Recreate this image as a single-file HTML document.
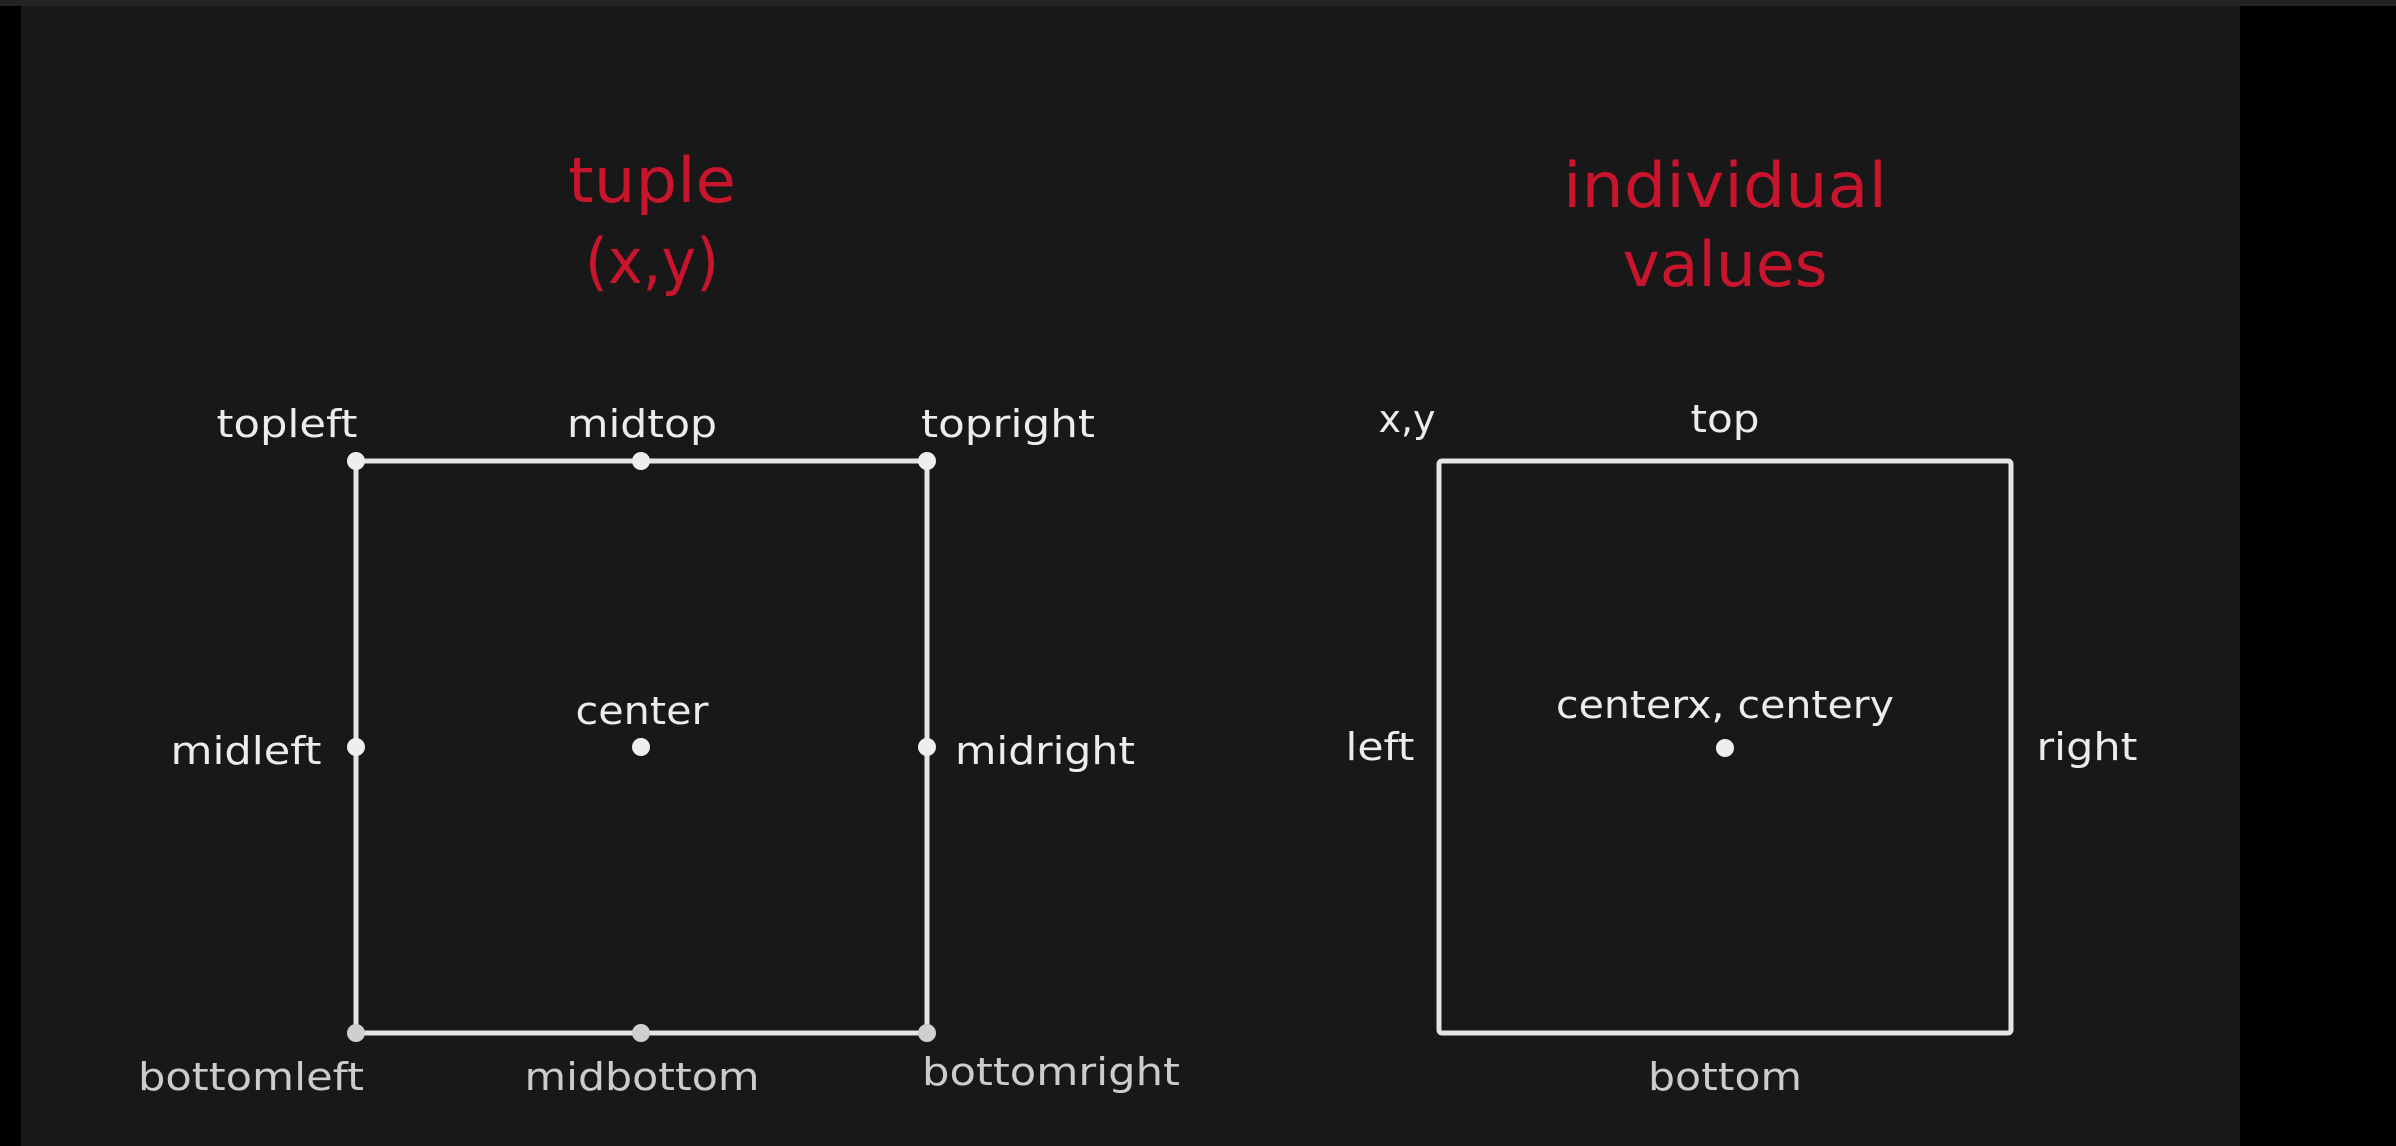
<!DOCTYPE html>
<html><head><meta charset="utf-8"><style>
html,body{margin:0;padding:0;background:#000;}
svg{display:block}
</style></head><body>
<svg width="2396" height="1146" viewBox="0 0 2396 1146" xmlns="http://www.w3.org/2000/svg">
<rect x="0" y="0" width="2396" height="1146" fill="#000"/>
<rect x="0" y="0" width="2396" height="6" fill="#232323"/>
<rect x="21" y="6" width="2219" height="1140" fill="#181818"/>
<g font-family="DejaVu Sans, Liberation Sans, sans-serif" text-anchor="middle">
<g fill="#c8142c" font-size="62">
<text x="652" y="202" textLength="168" lengthAdjust="spacingAndGlyphs">tuple</text>
<text x="652" y="283" textLength="134" lengthAdjust="spacingAndGlyphs">(x,y)</text>
<text x="1725" y="207" textLength="324" lengthAdjust="spacingAndGlyphs">individual</text>
<text x="1725" y="286" textLength="205" lengthAdjust="spacingAndGlyphs">values</text>
</g>
<g fill="none" stroke="#e4e4e4" stroke-width="5">
<rect x="356" y="461" width="571" height="572"/>
<rect x="1439" y="461" width="572" height="572" rx="3"/>
</g>
<g fill="#eeeeee">
<circle cx="356" cy="461" r="9"/><circle cx="641" cy="461" r="9"/><circle cx="927" cy="461" r="9"/>
<circle cx="356" cy="747" r="9"/><circle cx="641" cy="747" r="9"/><circle cx="927" cy="747" r="9"/>
<circle cx="1725" cy="748" r="9"/>
</g>
<g fill="#cfcfcf">
<circle cx="356" cy="1033" r="9"/><circle cx="641" cy="1033" r="9"/><circle cx="927" cy="1033" r="9"/>
</g>
<g fill="#ececec" font-size="38">
<text x="287" y="437" textLength="141" lengthAdjust="spacingAndGlyphs">topleft</text>
<text x="642" y="437" textLength="150" lengthAdjust="spacingAndGlyphs">midtop</text>
<text x="1008" y="437" textLength="174" lengthAdjust="spacingAndGlyphs">topright</text>
<text x="642" y="724" textLength="133" lengthAdjust="spacingAndGlyphs">center</text>
<text x="246" y="764" textLength="151" lengthAdjust="spacingAndGlyphs">midleft</text>
<text x="1045" y="764" textLength="180" lengthAdjust="spacingAndGlyphs">midright</text>
<text x="1407" y="432" textLength="57" lengthAdjust="spacingAndGlyphs">x,y</text>
<text x="1725" y="432" textLength="69" lengthAdjust="spacingAndGlyphs">top</text>
<text x="1725" y="718" textLength="338" lengthAdjust="spacingAndGlyphs">centerx, centery</text>
<text x="1380" y="760" textLength="69" lengthAdjust="spacingAndGlyphs">left</text>
<text x="2087" y="760" textLength="101" lengthAdjust="spacingAndGlyphs">right</text>
</g>
<g fill="#cccccc" font-size="38">
<text x="251" y="1090" textLength="226" lengthAdjust="spacingAndGlyphs">bottomleft</text>
<text x="642" y="1090" textLength="235" lengthAdjust="spacingAndGlyphs">midbottom</text>
<text x="1051" y="1085" textLength="258" lengthAdjust="spacingAndGlyphs">bottomright</text>
<text x="1725" y="1090" textLength="154" lengthAdjust="spacingAndGlyphs">bottom</text>
</g>
</g>
</svg>
</body></html>
